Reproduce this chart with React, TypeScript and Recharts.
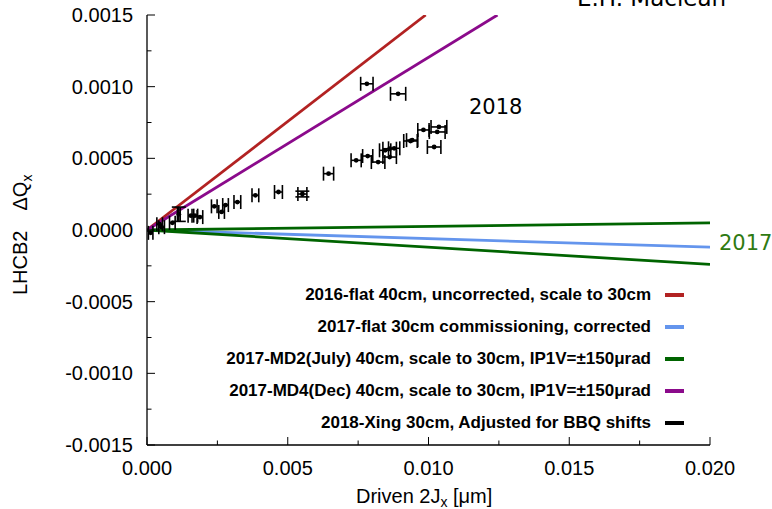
import React from "react";
import {
  ComposedChart,
  XAxis,
  YAxis,
  Line,
  Scatter,
  ErrorBar,
} from "recharts";

// ---- axis ticks -------------------------------------------------------------
const X_TICKS = [0, 0.0025, 0.005, 0.0075, 0.01, 0.0125, 0.015, 0.0175, 0.02];
const X_MAJOR = [0, 0.005, 0.01, 0.015, 0.02];
const Y_TICKS = [
  -0.0015, -0.00125, -0.001, -0.00075, -0.0005, -0.00025, 0, 0.00025, 0.0005,
  0.00075, 0.001, 0.00125, 0.0015,
];
const Y_MAJOR = [-0.0015, -0.001, -0.0005, 0, 0.0005, 0.001, 0.0015];

// ---- linear detuning fits (ΔQx vs 2Jx) ----------------------------------------
const fit2016Flat = [
  { x: 0, y: 0 },
  { x: 0.0099, y: 0.0015 },
];
const fit2017Flat = [
  { x: 0, y: 0 },
  { x: 0.02, y: -0.00012 },
];
const fit2017MD2Plus = [
  { x: 0, y: 0 },
  { x: 0.02, y: 0.00005 },
];
const fit2017MD2Minus = [
  { x: 0, y: 0 },
  { x: 0.02, y: -0.00024 },
];
const fit2017MD4 = [
  { x: 0, y: 0 },
  { x: 0.01245, y: 0.0015 },
];

// ---- 2018 crossing-angle measurements -----------------------------------------
const meas2018 = [
  { x: 0.00013, y: -0.00002, ex: 0.00008 },
  { x: 0.00045, y: 0.00004, ex: 0.0001 },
  { x: 0.00052, y: 0.00002, ex: 0.0001 },
  { x: 0.0009, y: 0.00005, ex: 0.0001 },
  { x: 0.00156, y: 0.0001, ex: 0.0001 },
  { x: 0.0017, y: 0.0001, ex: 0.0001 },
  { x: 0.00188, y: 0.00009, ex: 0.0001 },
  { x: 0.00239, y: 0.000165, ex: 0.0001 },
  { x: 0.00265, y: 0.000126, ex: 0.0001 },
  { x: 0.00279, y: 0.000174, ex: 0.0001 },
  { x: 0.00321, y: 0.000195, ex: 0.00012 },
  { x: 0.00385, y: 0.000242, ex: 0.00012 },
  { x: 0.00467, y: 0.000265, ex: 0.00014 },
  { x: 0.00645, y: 0.000393, ex: 0.00018 },
  { x: 0.00743, y: 0.000486, ex: 0.00018 },
  { x: 0.00784, y: 0.000516, ex: 0.00018 },
  { x: 0.00821, y: 0.000474, ex: 0.00024 },
  { x: 0.00846, y: 0.000556, ex: 0.0002 },
  { x: 0.00862, y: 0.000567, ex: 0.00024 },
  { x: 0.00878, y: 0.00057, ex: 0.0002 },
  { x: 0.00862, y: 0.000509, ex: 0.00024 },
  { x: 0.00936, y: 0.000621, ex: 0.00024 },
  { x: 0.00942, y: 0.000627, ex: 0.0002 },
  { x: 0.00982, y: 0.000698, ex: 0.0002 },
  { x: 0.0102, y: 0.000579, ex: 0.00024 },
  { x: 0.01031, y: 0.000684, ex: 0.00028 },
  { x: 0.01037, y: 0.000719, ex: 0.00028 },
  { x: 0.00781, y: 0.00102, ex: 0.00022 },
  { x: 0.00892, y: 0.00095, ex: 0.00027 },
];
// points that also carry a vertical uncertainty
const meas2018WithYErr = [
  { x: 0.00113, y: 0.00011, ex: 0.00005, ey: 0.00005 },
  { x: 0.00552, y: 0.000251, ex: 0.00016, ey: 0.00002 },
];

// ---- legend -------------------------------------------------------------------
const legendNames = [
  "2016-flat 40cm, uncorrected, scale to 30cm",
  "2017-flat 30cm commissioning, corrected",
  "2017-MD2(July) 40cm, scale to 30cm, IP1V=±150μrad",
  "2017-MD4(Dec) 40cm, scale to 30cm, IP1V=±150μrad",
  "2018-Xing 30cm, Adjusted for BBQ shifts",
];
const legendColors = ["#b22222", "#6495ed", "#006400", "#8b0a8b", "#000000"];

const W = 772;
const H = 509;
const SANS = "'Liberation Sans', Arial, Helvetica, sans-serif";
const DEJAVU = "'DejaVu Sans', sans-serif";
const TICK_FONT = 20;

const isMajor = (v: number, majors: number[]) =>
  majors.some((m) => Math.abs(m - v) < 1e-9);

const BottomTick = (props: any) => {
  const { x, y, payload } = props;
  const major = isMajor(payload.value, X_MAJOR);
  return (
    <g>
      <line x1={x} y1={y} x2={x} y2={y - (major ? 8 : 4.5)} stroke="#000" strokeWidth={1} />
      {major && (
        <text x={x} y={y + 30} textAnchor="middle" fontFamily={SANS} fontSize={TICK_FONT} fill="#000">
          {payload.value.toFixed(3)}
        </text>
      )}
    </g>
  );
};

const TopTick = (props: any) => {
  const { x, y, payload } = props;
  const major = isMajor(payload.value, X_MAJOR);
  return <line x1={x} y1={y} x2={x} y2={y + (major ? 8 : 4.5)} stroke="#000" strokeWidth={1} />;
};

const LeftTick = (props: any) => {
  const { x, y, payload } = props;
  const major = isMajor(payload.value, Y_MAJOR);
  return (
    <g>
      <line x1={x} y1={y} x2={x + (major ? 8 : 4.5)} y2={y} stroke="#000" strokeWidth={1} />
      {major && (
        <text x={x - 14} y={y + 7} textAnchor="end" fontFamily={SANS} fontSize={TICK_FONT} fill="#000">
          {payload.value.toFixed(4)}
        </text>
      )}
    </g>
  );
};

const RightTick = (props: any) => {
  const { x, y, payload } = props;
  const major = isMajor(payload.value, Y_MAJOR);
  return <line x1={x} y1={y} x2={x - (major ? 8 : 4.5)} y2={y} stroke="#000" strokeWidth={1} />;
};

const Dot = (props: any) => {
  const { cx, cy } = props;
  if (cx == null || cy == null) return null;
  return <circle cx={cx} cy={cy} r={2.4} fill="#000" />;
};

export default function App() {
  return (
    <div
      style={{
        position: "absolute",
        left: 0,
        top: 0,
        width: W,
        height: H,
        background: "#fff",
        overflow: "hidden",
      }}
    >
      <ComposedChart
        width={W}
        height={H}
        margin={{ top: 15, right: 62, bottom: 0, left: 0 }}
      >
        <XAxis
          xAxisId="main"
          dataKey="x"
          type="number"
          domain={[0, 0.02]}
          ticks={X_TICKS}
          interval={0}
          allowDataOverflow
          height={64}
          tickSize={0}
          tickMargin={0}
          tickLine={false}
          axisLine={{ stroke: "#000", strokeWidth: 1.3 }}
          tick={<BottomTick />}
        />
        <XAxis
          xAxisId="top"
          orientation="top"
          type="number"
          domain={[0, 0.02]}
          ticks={X_TICKS}
          interval={0}
          allowDataOverflow
          height={0}
          tickSize={0}
          tickMargin={0}
          tickLine={false}
          axisLine={{ stroke: "#000", strokeWidth: 1.3 }}
          tick={<TopTick />}
        />
        <YAxis
          yAxisId="main"
          dataKey="y"
          type="number"
          domain={[-0.0015, 0.0015]}
          ticks={Y_TICKS}
          interval={0}
          allowDataOverflow
          width={147}
          tickSize={0}
          tickMargin={0}
          tickLine={false}
          axisLine={{ stroke: "#000", strokeWidth: 1.3 }}
          tick={<LeftTick />}
        />
        <YAxis
          yAxisId="right"
          orientation="right"
          type="number"
          domain={[-0.0015, 0.0015]}
          ticks={Y_TICKS}
          interval={0}
          allowDataOverflow
          width={0}
          tickSize={0}
          tickMargin={0}
          tickLine={false}
          axisLine={{ stroke: "#000", strokeWidth: 1.3 }}
          tick={<RightTick />}
        />

        <Line xAxisId="main" yAxisId="main" data={fit2017Flat} dataKey="y" stroke={legendColors[1]} strokeWidth={2.8} dot={false} isAnimationActive={false} />
        <Line xAxisId="main" yAxisId="main" data={fit2017MD2Plus} dataKey="y" stroke={legendColors[2]} strokeWidth={2.8} dot={false} isAnimationActive={false} />
        <Line xAxisId="main" yAxisId="main" data={fit2017MD2Minus} dataKey="y" stroke={legendColors[2]} strokeWidth={2.8} dot={false} isAnimationActive={false} />
        <Line xAxisId="main" yAxisId="main" data={fit2016Flat} dataKey="y" stroke={legendColors[0]} strokeWidth={2.8} dot={false} isAnimationActive={false} />
        <Line xAxisId="main" yAxisId="main" data={fit2017MD4} dataKey="y" stroke={legendColors[3]} strokeWidth={2.8} dot={false} isAnimationActive={false} />

        <Scatter xAxisId="main" yAxisId="main" data={meas2018} dataKey="y" shape={<Dot />} isAnimationActive={false}>
          <ErrorBar dataKey="ex" direction="x" width={7} stroke="#000" strokeWidth={1.6} isAnimationActive={false} />
        </Scatter>
        <Scatter xAxisId="main" yAxisId="main" data={meas2018WithYErr} dataKey="y" shape={<Dot />} isAnimationActive={false}>
          <ErrorBar dataKey="ex" direction="x" width={7} stroke="#000" strokeWidth={1.6} isAnimationActive={false} />
          <ErrorBar dataKey="ey" direction="y" width={7} stroke="#000" strokeWidth={1.6} isAnimationActive={false} />
        </Scatter>
      </ComposedChart>

      {/* titles and annotations */}
      <svg
        width={W}
        height={H}
        style={{ position: "absolute", left: 0, top: 0, pointerEvents: "none" }}
      >
        <text x={577} y={6} fontFamily={DEJAVU} fontSize={23} fill="#000">
          E.H. Maclean
        </text>
        <text x={469} y={114} fontFamily={DEJAVU} fontSize={21} fill="#000">
          2018
        </text>
        <text x={719} y={250} fontFamily={DEJAVU} fontSize={21} fill="#2f7a12">
          2017
        </text>
        <text x={356} y={503} fontFamily={SANS} fontSize={20} fill="#000">
          Driven 2J
          <tspan fontSize={14} dy={4}>x</tspan>
          <tspan dy={-4}> [μm]</tspan>
        </text>
        <text
          transform="rotate(-90)"
          x={-295}
          y={27}
          fontFamily={SANS}
          fontSize={20}
          fill="#000"
        >
          LHCB2
          <tspan dx={20}>ΔQ</tspan>
          <tspan fontSize={14} dy={5}>x</tspan>
        </text>
      </svg>

      {/* legend */}
      <div
        style={{
          position: "absolute",
          left: 0,
          top: 279,
          width: 684,
          fontFamily: SANS,
          fontWeight: "bold",
          fontSize: 17,
          color: "#000",
        }}
      >
        {legendNames.map((name, i) => (
          <div
            key={name}
            style={{
              height: 32,
              display: "flex",
              justifyContent: "flex-end",
              alignItems: "center",
              whiteSpace: "nowrap",
            }}
          >
            <span>{name}</span>
            <span
              style={{
                display: "inline-block",
                width: 19,
                height: 4,
                marginLeft: 14,
                background: legendColors[i],
              }}
            />
          </div>
        ))}
      </div>
    </div>
  );
}
